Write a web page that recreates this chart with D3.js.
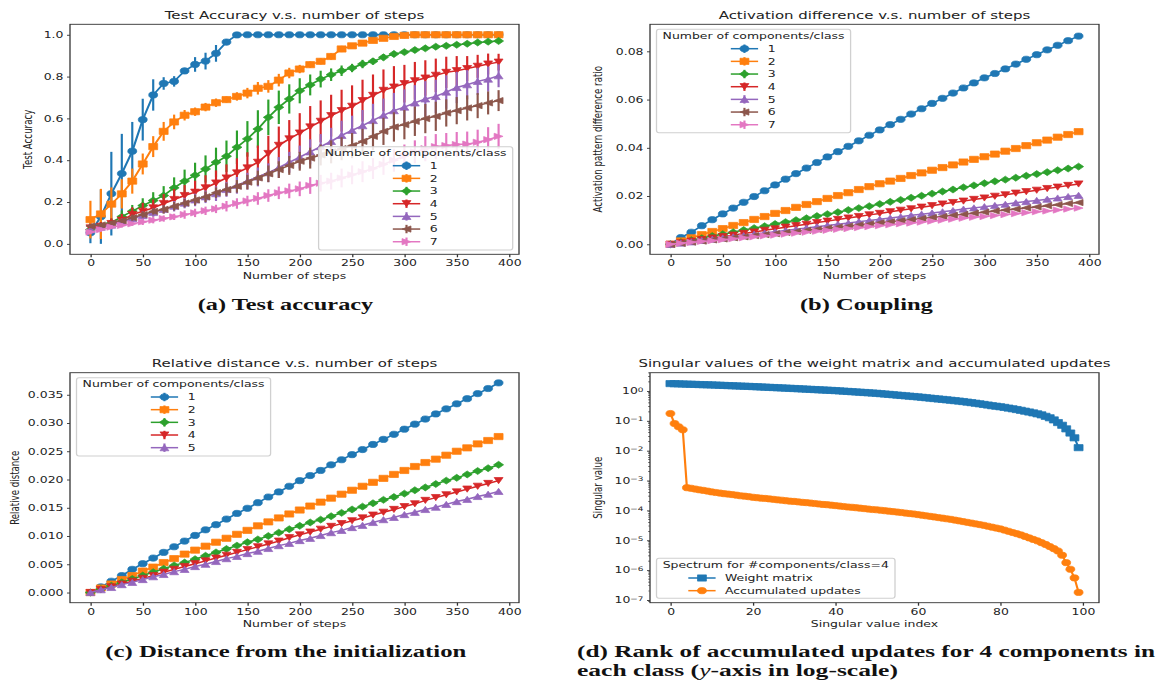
<!DOCTYPE html>
<html>
<head>
<meta charset="utf-8">
<script src="https://cdn.jsdelivr.net/npm/d3@7"></script>
<style>
  body { margin: 0; background: #fff; }
  svg { display: block; }
</style>
</head>
<body>
<svg id="fig" width="1159" height="681"></svg>
<script>
// ---- data ----
const STEPS = [0, 10, 20, 30, 40, 50, 60, 70, 80, 90, 100, 110, 120, 130, 140, 150, 160, 170, 180, 190,
  200, 210, 220, 230, 240, 250, 260, 270, 280, 290, 300, 310, 320, 330, 340, 350, 360, 370, 380, 390]
const COMPONENTS = ['1', '2', '3', '4', '5', '6', '7']

// (a) test accuracy, mean and error half-width
const ACC_1 = [0.053, 0.13, 0.24, 0.336, 0.443, 0.594, 0.712, 0.767, 0.777, 0.827, 0.858, 0.874, 0.911, 0.965, 0.999,
  1, 1, 1, 1, 1, 1, 1, 1, 1, 1, 1, 1, 1, 1, 1, 1, 1, 1, 1, 1, 1, 1, 1, 1, 1]
const ERR_1 = [0.05, 0.13, 0.2, 0.19, 0.14, 0.1, 0.075, 0.03, 0.025, 0.015, 0.035, 0.04, 0.04, 0.015, 0.003,
  0, 0, 0, 0, 0, 0, 0, 0, 0, 0, 0, 0, 0, 0, 0, 0, 0, 0, 0, 0, 0, 0, 0, 0, 0]
const ACC_2 = [0.116, 0.143, 0.19, 0.239, 0.30, 0.382, 0.465, 0.538, 0.583, 0.615, 0.632, 0.654, 0.675, 0.69, 0.705,
  0.721, 0.744, 0.753, 0.783, 0.817, 0.836, 0.857, 0.873, 0.896, 0.932, 0.947, 0.96, 0.973, 0.983, 0.992, 0.997,
  1, 1, 1, 1, 1, 1, 1, 1, 1]
const ERR_2 = [0.09, 0.12, 0.08, 0.07, 0.06, 0.05, 0.05, 0.045, 0.035, 0.025, 0.02, 0.02, 0.02, 0.015, 0.02,
  0.025, 0.03, 0.03, 0.03, 0.025, 0.02, 0.015, 0.015, 0.015, 0.015, 0.01, 0.01, 0.01, 0.008, 0.005, 0.003,
  0, 0, 0, 0, 0, 0, 0, 0, 0]
const ACC_3 = [0.068, 0.084, 0.10, 0.13, 0.156, 0.183, 0.207, 0.231, 0.268, 0.30, 0.328, 0.358, 0.39, 0.419, 0.462,
  0.502, 0.549, 0.605, 0.653, 0.693, 0.732, 0.76, 0.788, 0.809, 0.828, 0.841, 0.86, 0.873, 0.892, 0.908, 0.917,
  0.927, 0.935, 0.943, 0.947, 0.952, 0.957, 0.963, 0.967, 0.97]
const ERR_3 = [0.02, 0.02, 0.02, 0.03, 0.03, 0.035, 0.04, 0.045, 0.05, 0.055, 0.06, 0.065, 0.07, 0.075, 0.08,
  0.085, 0.09, 0.085, 0.08, 0.07, 0.06, 0.05, 0.04, 0.03, 0.025, 0.02, 0.02, 0.015, 0.015, 0.015, 0.012,
  0.012, 0.01, 0.01, 0.01, 0.01, 0.008, 0.008, 0.008, 0.008]
const ACC_4 = [0.076, 0.084, 0.097, 0.113, 0.14, 0.156, 0.172, 0.193, 0.212, 0.231, 0.247, 0.268, 0.291, 0.315, 0.339,
  0.363, 0.39, 0.432, 0.471, 0.502, 0.53, 0.559, 0.586, 0.613, 0.637, 0.658, 0.685, 0.71, 0.734, 0.75, 0.766,
  0.78, 0.793, 0.806, 0.82, 0.828, 0.838, 0.849, 0.86, 0.869]
const ERR_4 = [0.02, 0.02, 0.025, 0.03, 0.035, 0.04, 0.04, 0.045, 0.05, 0.05, 0.055, 0.06, 0.06, 0.065, 0.07,
  0.075, 0.08, 0.085, 0.09, 0.09, 0.095, 0.1, 0.1, 0.1, 0.1, 0.1, 0.1, 0.1, 0.1, 0.1, 0.09,
  0.09, 0.085, 0.08, 0.075, 0.07, 0.06, 0.055, 0.05, 0.04]
const ACC_5 = [0.068, 0.08, 0.09, 0.105, 0.12, 0.135, 0.15, 0.165, 0.18, 0.195, 0.21, 0.225, 0.24, 0.26, 0.28,
  0.30, 0.32, 0.34, 0.365, 0.39, 0.415, 0.44, 0.465, 0.49, 0.519, 0.543, 0.565, 0.59, 0.615, 0.637, 0.654,
  0.674, 0.693, 0.705, 0.726, 0.748, 0.761, 0.777, 0.788, 0.804]
const ERR_5 = [0.01, 0.01, 0.01, 0.015, 0.015, 0.02, 0.02, 0.02, 0.025, 0.025, 0.03, 0.03, 0.035, 0.035, 0.04,
  0.04, 0.045, 0.045, 0.05, 0.05, 0.055, 0.06, 0.06, 0.065, 0.07, 0.07, 0.075, 0.08, 0.08, 0.085, 0.085,
  0.085, 0.085, 0.08, 0.08, 0.075, 0.07, 0.065, 0.06, 0.055]
const ACC_6 = [0.085, 0.09, 0.10, 0.11, 0.125, 0.14, 0.155, 0.165, 0.18, 0.195, 0.21, 0.225, 0.245, 0.26, 0.275,
  0.295, 0.315, 0.335, 0.355, 0.375, 0.395, 0.41, 0.425, 0.44, 0.455, 0.47, 0.49, 0.514, 0.538, 0.559, 0.57,
  0.586, 0.599, 0.61, 0.626, 0.637, 0.65, 0.661, 0.674, 0.685]
const ERR_6 = [0.01, 0.01, 0.01, 0.01, 0.015, 0.015, 0.015, 0.02, 0.02, 0.02, 0.025, 0.025, 0.025, 0.03, 0.03,
  0.035, 0.035, 0.04, 0.04, 0.045, 0.045, 0.05, 0.05, 0.055, 0.055, 0.06, 0.06, 0.065, 0.065, 0.07, 0.07,
  0.07, 0.07, 0.07, 0.065, 0.065, 0.06, 0.06, 0.055, 0.05]
const ACC_7 = [0.056, 0.068, 0.08, 0.088, 0.096, 0.105, 0.113, 0.121, 0.129, 0.14, 0.148, 0.158, 0.167, 0.18, 0.193,
  0.205, 0.217, 0.231, 0.244, 0.253, 0.263, 0.279, 0.29, 0.30, 0.315, 0.33, 0.345, 0.36, 0.38, 0.40, 0.42,
  0.44, 0.455, 0.465, 0.47, 0.475, 0.477, 0.486, 0.498, 0.514]
const ERR_7 = [0.01, 0.01, 0.01, 0.01, 0.01, 0.015, 0.015, 0.015, 0.015, 0.02, 0.02, 0.02, 0.02, 0.025, 0.025,
  0.025, 0.03, 0.03, 0.03, 0.035, 0.035, 0.04, 0.04, 0.04, 0.045, 0.045, 0.05, 0.05, 0.05, 0.055, 0.055,
  0.055, 0.06, 0.06, 0.06, 0.06, 0.06, 0.06, 0.06, 0.06]

// (b) activation pattern difference ratio
const ACT_1 = [0, .0028, .005, .0077, .0102, .0126, .015, .0174, .0198, .0222, .0246, .027, .0293, .0316, .0339,
  .0362, .0384, .0406, .0429, .0452, .0474, .0496, .0518, .054, .0562, .0584, .0605, .0627, .0648, .0669, .069,
  .0708, .0727, .0747, .0767, .0786, .0806, .0825, .0844, .0863]
const ACT_2 = [0, .0014, .0027, .004, .0053, .0065, .0078, .009, .0103, .0115, .0128, .014, .0153, .0165, .0177,
  .019, .0202, .0214, .0227, .0239, .0251, .0262, .0273, .0285, .0296, .0307, .0318, .0329, .0341, .0352, .0363,
  .0374, .0386, .0397, .0409, .0421, .0432, .0444, .0455, .0467]
const ACT_3 = [0, .0009, .0017, .0025, .0034, .0042, .005, .0059, .0067, .0075, .0084, .0092, .01, .0108, .0117,
  .0125, .0133, .0142, .015, .0158, .0167, .0176, .0184, .0193, .0201, .021, .0219, .0227, .0236, .0244, .0253,
  .0261, .0268, .0276, .0284, .0291, .0299, .0307, .0314, .0322]
const ACT_4 = [0, .0006, .0013, .0019, .0026, .0032, .0038, .0045, .0051, .0058, .0064, .0071, .0077, .0083, .009,
  .0096, .0103, .0109, .0115, .0122, .0128, .0135, .0141, .0147, .0154, .016, .0167, .0173, .0179, .0186, .0192,
  .0199, .0205, .0212, .0218, .0224, .0231, .0237, .0244, .025]
const ACT_5 = [0, .0005, .001, .0016, .0021, .0026, .0031, .0036, .0042, .0047, .0052, .0057, .0062, .0068, .0073,
  .0078, .0083, .0088, .0094, .0099, .0104, .0109, .0114, .012, .0125, .013, .0135, .014, .0146, .0151, .0156,
  .0161, .0166, .0172, .0177, .0182, .0187, .0192, .0198, .0203]
const ACT_6 = [0, .0004, .0009, .0013, .0018, .0022, .0027, .0031, .0036, .004, .0044, .0049, .0053, .0058, .0062,
  .0067, .0071, .0075, .008, .0084, .0089, .0093, .0098, .0102, .0107, .0111, .0115, .012, .0124, .0129, .0133,
  .0138, .0142, .0146, .0151, .0155, .016, .0164, .0169, .0173]
const ACT_7 = [0, .0004, .0008, .0012, .0015, .0019, .0023, .0027, .0031, .0035, .0038, .0042, .0046, .005, .0054,
  .0058, .0062, .0065, .0069, .0073, .0077, .0081, .0085, .0088, .0092, .0096, .01, .0104, .0108, .0112, .0115,
  .0119, .0123, .0127, .0131, .0135, .0138, .0142, .0146, .015]

// (c) relative distance from the initialization
const DIST_1 = [0, .001, .002, .003, .0041, .0051, .0061, .0071, .0081, .0091, .0101, .0111, .012, .013, .014,
  .0149, .0159, .0169, .0178, .0188, .0198, .0207, .0216, .0226, .0235, .0244, .0253, .0262, .0271, .028, .0289,
  .0298, .0307, .0316, .0325, .0334, .0343, .0352, .0361, .0371]
const DIST_2 = [0, .0008, .0015, .0023, .003, .0038, .0045, .0053, .006, .0068, .0075, .0082, .0089, .0096, .0103,
  .011, .0118, .0125, .0132, .0139, .0146, .0153, .016, .0167, .0174, .0181, .0188, .0195, .0202, .0209, .0216,
  .0223, .023, .0236, .0243, .025, .0256, .0263, .0269, .0276]
const DIST_3 = [0, .0006, .0012, .0018, .0024, .003, .0036, .0042, .0048, .0053, .0059, .0065, .0071, .0077, .0083,
  .0089, .0094, .01, .0106, .0112, .0118, .0124, .0129, .0135, .0141, .0147, .0152, .0158, .0164, .0169, .0175,
  .0181, .0186, .0192, .0198, .0203, .0209, .0215, .022, .0226]
const DIST_4 = [0, .0005, .001, .0015, .002, .0025, .003, .0036, .0041, .0046, .0051, .0056, .0061, .0066, .0071,
  .0076, .0081, .0086, .0091, .0097, .0102, .0107, .0112, .0117, .0122, .0127, .0132, .0137, .0142, .0147, .0152,
  .0157, .0163, .0168, .0173, .0178, .0183, .0188, .0193, .0198]
const DIST_5 = [0, .0005, .0009, .0014, .0018, .0023, .0028, .0032, .0037, .0041, .0046, .005, .0055, .006, .0064,
  .0069, .0073, .0078, .0083, .0087, .0092, .0096, .0101, .0106, .011, .0115, .0119, .0124, .0129, .0133, .0138,
  .0142, .0147, .0151, .0156, .0161, .0165, .017, .0174, .0179]

// (d) singular values, index 0..99
const WEIGHT_SV = [1.758, 1.742, 1.722, 1.706, 1.687, 1.671, 1.652, 1.633, 1.618, 1.600, 1.585,
  1.567, 1.545, 1.528, 1.507, 1.489, 1.469, 1.452, 1.432, 1.416, 1.396,
  1.377, 1.355, 1.337, 1.315, 1.297, 1.276, 1.259, 1.239, 1.222, 1.202,
  1.183, 1.164, 1.146, 1.127, 1.109, 1.091, 1.074, 1.057, 1.040, 1.023,
  1.002, .982, .962, .942, .923, .904, .885, .867, .849, .832,
  .809, .787, .766, .745, .724, .705, .685, .667, .649, .631,
  .611, .592, .573, .555, .537, .520, .504, .488, .472, .457,
  .440, .422, .405, .387, .370, .353, .337, .320, .308, .295,
  .281, .266, .252, .238, .224, .210, .197, .184, .171, .158,
  .141, .126, .107, .0871, .0708, .0537, .0389, .0269, .0126]
const UPDATE_SV = [.175, .081, .063, .050, 5.75e-4,
  5.50e-4, 5.19e-4, 4.90e-4, 4.68e-4, 4.42e-4, 4.17e-4,
  3.98e-4, 3.80e-4, 3.63e-4, 3.51e-4, 3.39e-4, 3.24e-4, 3.09e-4, 2.99e-4, 2.88e-4, 2.75e-4,
  2.66e-4, 2.57e-4, 2.51e-4, 2.43e-4, 2.34e-4, 2.26e-4, 2.19e-4, 2.11e-4, 2.04e-4, 2.00e-4,
  1.93e-4, 1.86e-4, 1.82e-4, 1.76e-4, 1.70e-4, 1.64e-4, 1.58e-4, 1.55e-4, 1.50e-4, 1.45e-4,
  1.40e-4, 1.35e-4, 1.30e-4, 1.27e-4, 1.23e-4, 1.19e-4, 1.15e-4, 1.11e-4, 1.07e-4, 1.05e-4,
  1.01e-4, 9.77e-5, 9.44e-5, 9.12e-5, 8.81e-5, 8.51e-5, 8.13e-5, 7.85e-5, 7.59e-5, 7.24e-5,
  6.92e-5, 6.61e-5, 6.31e-5, 6.03e-5, 5.75e-5, 5.50e-5, 5.25e-5, 5.01e-5, 4.73e-5, 4.47e-5,
  4.22e-5, 3.98e-5, 3.76e-5, 3.55e-5, 3.35e-5, 3.16e-5, 2.95e-5, 2.75e-5, 2.57e-5, 2.40e-5,
  2.19e-5, 2.00e-5, 1.82e-5, 1.66e-5, 1.51e-5, 1.35e-5, 1.20e-5, 1.07e-5, 9.55e-6, 8.32e-6,
  7.24e-6, 6.17e-6, 5.25e-6, 4.37e-6, 3.16e-6, 1.78e-6, 1.07e-6, 5.5e-7, 1.8e-7]

const X_TICKS_STEPS = [0, 50, 100, 150, 200, 250, 300, 350, 400]
const Y_TICKS_ACC = [0, 0.2, 0.4, 0.6, 0.8, 1.0]
const Y_TICKS_ACT = [0, 0.02, 0.04, 0.06, 0.08]
const Y_TICKS_DIST = [0, 0.005, 0.01, 0.015, 0.02, 0.025, 0.03, 0.035]
const X_TICKS_SV = [0, 20, 40, 60, 80, 100]
const Y_TICKS_SV = [1, 1e-1, 1e-2, 1e-3, 1e-4, 1e-5, 1e-6, 1e-7]

// ---- look ----
const SX = 1.44            // the whole figure is stretched sideways
const X = px => px / SX
const FONT = '"DejaVu Sans", sans-serif'
const FS = 8.65, TFS = 10.4
const COLORS = ['#1f77b4', '#ff7f0e', '#2ca02c', '#d62728', '#9467bd', '#8c564b', '#e377c2']
const MARKERS = ['circle', 'square', 'diamond', 'tri-down', 'tri-up', 'tri-left', 'tri-right']
const MR = 3.1

const markerPath = (type, r) => {
  switch (type) {
    case 'circle': return d3.symbol(d3.symbolCircle, Math.PI * r * r)()
    case 'square': return `M${-r},${-r}H${r}V${r}H${-r}Z`
    case 'diamond': { const q = r * 1.12; return `M0,${-q}L${q},0L0,${q}L${-q},0Z` }
    case 'tri-up': return `M0,${-r}L${r},${r}L${-r},${r}Z`
    case 'tri-down': return `M0,${r}L${r},${-r}L${-r},${-r}Z`
    case 'tri-left': return `M${-r},0L${r},${-r}L${r},${r}Z`
    case 'tri-right': return `M${r},0L${-r},${-r}L${-r},${r}Z`
  }
}

const svg = d3.select('#fig')
svg.append('rect').attr('width', 1159).attr('height', 681).attr('fill', '#fff')
const fig = svg.append('g').attr('transform', `scale(${SX},1)`)

const PANELS = {
  a: { l: 70, r: 519, t: 24.3, b: 254.3 },
  b: { l: 650, r: 1099, t: 24.3, b: 254.3 },
  c: { l: 70, r: 519, t: 372.7, b: 602.7 },
  d: { l: 650, r: 1099, t: 372.7, b: 602.7 }
}

const styleAxis = (a) => {
  a.select('.domain').remove()
  a.attr('font-family', FONT).attr('font-size', FS)
  a.selectAll('line').attr('stroke', '#333').attr('stroke-width', 0.9)
  a.selectAll('text').attr('fill', '#222')
}

const drawAxes = (box, x, y, xTicks, yTicks, yFormat) => {
  const ax = fig.append('g').attr('transform', `translate(0,${box.b})`)
    .call(d3.axisBottom(x).tickValues(xTicks).tickFormat(d3.format('d')).tickSize(3).tickPadding(3).tickSizeOuter(0))
  styleAxis(ax)
  const ay = fig.append('g').attr('transform', `translate(${X(box.l)},0)`)
    .call(d3.axisLeft(y).tickValues(yTicks).tickFormat(yFormat || (() => '')).tickSize(X(3)).tickPadding(X(3.5)).tickSizeOuter(0))
  styleAxis(ay)
  return ay
}

const drawFrame = (box) => {
  fig.append('rect')
    .attr('x', X(box.l)).attr('y', box.t)
    .attr('width', X(box.r) - X(box.l)).attr('height', box.b - box.t)
    .attr('fill', 'none').attr('stroke', '#333').attr('stroke-width', 0.9)
}

const drawLabels = (box, title, xlabel, ylabel, yLabelX) => {
  const cx = X((box.l + box.r) / 2)
  fig.append('text').attr('x', cx).attr('y', box.t - 5.4)
    .attr('text-anchor', 'middle').attr('font-family', FONT).attr('font-size', TFS).attr('fill', '#222')
    .text(title)
  fig.append('text').attr('x', cx).attr('y', box.b + 24.8)
    .attr('text-anchor', 'middle').attr('font-family', FONT).attr('font-size', FS).attr('fill', '#222')
    .text(xlabel)
  fig.append('text')
    .attr('transform', `translate(${X(yLabelX)},${(box.t + box.b) / 2}) rotate(-90)`)
    .attr('text-anchor', 'middle').attr('font-family', FONT).attr('font-size', FS).attr('fill', '#222')
    .text(ylabel)
}

const drawSeries = (x, y, xs, ys, errs, color, marker) => {
  const g = fig.append('g')
  if (errs) {
    g.selectAll('line')
      .data(xs.map((v, i) => [v, ys[i], errs[i]]).filter(d => d[2] > 0))
      .join('line')
      .attr('x1', d => x(d[0])).attr('x2', d => x(d[0]))
      .attr('y1', d => y(d[1] - d[2])).attr('y2', d => y(d[1] + d[2]))
      .attr('stroke', color).attr('stroke-width', 1.5)
  }
  g.append('path')
    .attr('d', d3.line().x((d, i) => x(xs[i])).y(d => y(d))(ys))
    .attr('fill', 'none').attr('stroke', color).attr('stroke-width', 1.5)
  g.selectAll('path.mk')
    .data(ys)
    .join('path')
    .attr('class', 'mk')
    .attr('d', markerPath(marker, MR))
    .attr('transform', (d, i) => `translate(${x(xs[i])},${y(d)})`)
    .attr('fill', color).attr('stroke', color).attr('stroke-width', 0.6)
}

const drawLegend = ({ box, title, titleY, rowYs, labels, colors, markers, hx0, hx1, lx, bars }) => {
  const g = fig.append('g')
  g.append('rect')
    .attr('x', X(box.l)).attr('y', box.t)
    .attr('width', X(box.r) - X(box.l)).attr('height', box.b - box.t)
    .attr('rx', X(2.5)).attr('ry', 2.5)
    .attr('fill', '#fff').attr('fill-opacity', 0.85)
    .attr('stroke', '#d0d0d0').attr('stroke-width', 0.9)
  g.append('text').attr('x', X((box.l + box.r) / 2)).attr('y', titleY + 3.2)
    .attr('text-anchor', 'middle').attr('font-family', FONT).attr('font-size', FS).attr('fill', '#222')
    .text(title)
  labels.forEach((lab, i) => {
    const cy = rowYs[i], col = colors[i]
    g.append('line').attr('x1', X(hx0)).attr('x2', X(hx1)).attr('y1', cy).attr('y2', cy)
      .attr('stroke', col).attr('stroke-width', 1.5)
    if (bars) {
      g.append('line').attr('x1', X((hx0 + hx1) / 2)).attr('x2', X((hx0 + hx1) / 2))
        .attr('y1', cy - 4.2).attr('y2', cy + 4.2).attr('stroke', col).attr('stroke-width', 1.5)
    }
    g.append('path').attr('d', markerPath(markers[i], MR))
      .attr('transform', `translate(${X((hx0 + hx1) / 2)},${cy})`)
      .attr('fill', col).attr('stroke', col).attr('stroke-width', 0.6)
    g.append('text').attr('x', X(lx)).attr('y', cy + 3.2)
      .attr('font-family', FONT).attr('font-size', FS).attr('fill', '#222')
      .text(lab)
  })
}

const caption = (text, x, y, width, anchor) => {
  return fig.append('text')
    .attr('x', X(x)).attr('y', y)
    .attr('text-anchor', anchor || 'middle')
    .attr('font-family', '"Liberation Serif", "Times New Roman", serif')
    .attr('font-weight', 'bold').attr('font-size', 17).attr('fill', '#111')
    .attr('textLength', X(width)).attr('lengthAdjust', 'spacingAndGlyphs')
    .text(text)
}

const rowsFrom = (y0, n) => d3.range(n).map(i => y0 + i * 12.67)

// ---- (a) test accuracy ----
{
  const box = PANELS.a
  const x = d3.scaleLinear().domain([-19.5, 409.5]).range([X(box.l), X(box.r)])
  const y = d3.scaleLinear().domain([-0.05, 1.05]).range([box.b, box.t])
  drawAxes(box, x, y, X_TICKS_STEPS, Y_TICKS_ACC, d3.format('.1f'))
  const acc = [ACC_1, ACC_2, ACC_3, ACC_4, ACC_5, ACC_6, ACC_7]
  const err = [ERR_1, ERR_2, ERR_3, ERR_4, ERR_5, ERR_6, ERR_7]
  acc.forEach((s, i) => drawSeries(x, y, STEPS, s, err[i], COLORS[i], MARKERS[i]))
  drawFrame(box)
  drawLabels(box, 'Test Accuracy v.s. number of steps', 'Number of steps', 'Test Accuracy', 32)
  drawLegend({ box: { l: 318.6, r: 512.7, t: 146.7, b: 250 }, title: 'Number of components/class',
    titleY: 153.3, rowYs: rowsFrom(165.7, 7), labels: COMPONENTS, colors: COLORS, markers: MARKERS,
    hx0: 392.8, hx1: 420.2, lx: 429.8, bars: true })
}

// ---- (b) coupling ----
{
  const box = PANELS.b
  const x = d3.scaleLinear().domain([-19.5, 409.5]).range([X(box.l), X(box.r)])
  const y = d3.scaleLinear().domain([-0.00415, 0.0912]).range([box.b, box.t])
  drawAxes(box, x, y, X_TICKS_STEPS, Y_TICKS_ACT, d3.format('.2f'))
  const act = [ACT_1, ACT_2, ACT_3, ACT_4, ACT_5, ACT_6, ACT_7]
  act.forEach((s, i) => drawSeries(x, y, STEPS, s, null, COLORS[i], MARKERS[i]))
  drawFrame(box)
  drawLabels(box, 'Activation difference v.s. number of steps', 'Number of steps', 'Activation pattern difference ratio', 601.5)
  drawLegend({ box: { l: 656.5, r: 850.6, t: 29.3, b: 132.7 }, title: 'Number of components/class',
    titleY: 35.8, rowYs: rowsFrom(48.7, 7), labels: COMPONENTS, colors: COLORS, markers: MARKERS,
    hx0: 730.8, hx1: 758.1, lx: 767.7, bars: true })
}

// ---- (c) distance from the initialization ----
{
  const box = PANELS.c
  const x = d3.scaleLinear().domain([-19.5, 409.5]).range([X(box.l), X(box.r)])
  const y = d3.scaleLinear().domain([-0.0018, 0.0389]).range([box.b, box.t])
  drawAxes(box, x, y, X_TICKS_STEPS, Y_TICKS_DIST, d3.format('.3f'))
  const dist = [DIST_1, DIST_2, DIST_3, DIST_4, DIST_5]
  dist.forEach((s, i) => drawSeries(x, y, STEPS, s, null, COLORS[i], MARKERS[i]))
  drawFrame(box)
  drawLabels(box, 'Relative distance v.s. number of steps', 'Number of steps', 'Relative distance', 18.5)
  drawLegend({ box: { l: 76.5, r: 270.6, t: 377.7, b: 456 }, title: 'Number of components/class',
    titleY: 384.3, rowYs: rowsFrom(397, 5), labels: COMPONENTS.slice(0, 5), colors: COLORS, markers: MARKERS,
    hx0: 150.8, hx1: 178.1, lx: 187.7, bars: true })
}

// ---- (d) singular values ----
{
  const box = PANELS.d
  const idx = WEIGHT_SV.map((_, i) => i)
  const x = d3.scaleLinear().domain([-4.95, 103.95]).range([X(box.l), X(box.r)])
  const y = d3.scaleLog().domain([Math.pow(10, -7.09), Math.pow(10, 0.61)]).range([box.b, box.t])
  const ay = drawAxes(box, x, y, X_TICKS_SV, Y_TICKS_SV, null)
  ay.selectAll('.tick text').each(function (d) {
    const t = d3.select(this)
    const e = Math.round(Math.log10(d))
    t.text(null)
    t.append('tspan').text('10')
    t.append('tspan').attr('dy', '-0.42em').attr('font-size', 6.2).text(e === 0 ? '0' : '\u2212' + Math.abs(e))
  })
  const minor = []
  for (let k = -8; k <= 0; k++) for (let m = 2; m <= 9; m++) {
    const v = m * Math.pow(10, k)
    if (v > y.domain()[0] && v < y.domain()[1]) minor.push(v)
  }
  ay.selectAll('line.minor').data(minor).join('line').attr('class', 'minor')
    .attr('x1', 0).attr('x2', -X(1.8)).attr('y1', d => y(d)).attr('y2', d => y(d))
    .attr('stroke', '#333').attr('stroke-width', 0.7)
  drawSeries(x, y, idx, WEIGHT_SV, null, COLORS[0], 'square')
  drawSeries(x, y, idx, UPDATE_SV, null, COLORS[1], 'circle')
  drawFrame(box)
  drawLabels(box, 'Singular values of the weight matrix and accumulated updates', 'Singular value index', 'Singular value', 601.5)
  drawLegend({ box: { l: 656.5, r: 895, t: 558.3, b: 598.3 }, title: 'Spectrum for #components/class=4',
    titleY: 565.3, rowYs: rowsFrom(578, 2), labels: ['Weight matrix', 'Accumulated updates'],
    colors: COLORS.slice(0, 2), markers: ['square', 'circle'], hx0: 688.3, hx1: 715.6, lx: 724.9, bars: false })
}

// ---- captions ----
caption('(a) Test accuracy', 285.5, 310, 175.5)
caption('(b) Coupling', 866.4, 310, 133)
caption('(c) Distance from the initialization', 285.8, 657.5, 361)
caption('(d) Rank of accumulated updates for 4 components in', 577, 657.5, 578, 'start')
const cap2 = caption('', 577, 676.5, 321, 'start')
cap2.append('tspan').text('each class (')
cap2.append('tspan').attr('font-style', 'italic').attr('font-weight', 'normal').text('y')
cap2.append('tspan').text('-axis in log-scale)')
</script>
</body>
</html>
